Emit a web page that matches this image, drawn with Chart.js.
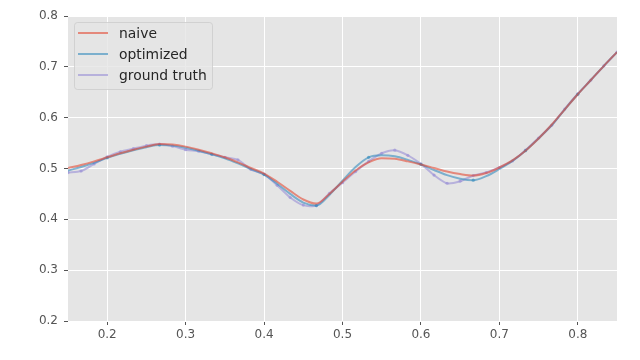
<!DOCTYPE html>
<html>
<head>
<meta charset="utf-8">
<script src="https://cdn.jsdelivr.net/npm/chart.js@4/dist/chart.umd.min.js"></script>
<style>
  html, body { margin: 0; padding: 0; background: #fff; }
  #wrap { width: 640px; height: 360px; position: relative; }
</style>
</head>
<body>
<div id="wrap"><canvas id="myChart" width="640" height="360"></canvas></div>
<script>
// sample positions (every 1/60 from 0.15 to 0.85)
const xs = [0.15, 0.1667, 0.1833, 0.2, 0.2167, 0.2333, 0.25, 0.2667, 0.2833, 0.3,
  0.3167, 0.3333, 0.35, 0.3667, 0.3833, 0.4, 0.4167, 0.4333, 0.45, 0.4667,
  0.4833, 0.5, 0.5167, 0.5333, 0.55, 0.5667, 0.5833, 0.6, 0.6167, 0.6333,
  0.65, 0.6667, 0.6833, 0.7, 0.7167, 0.7333, 0.75, 0.7667, 0.7833, 0.8,
  0.8167, 0.8333, 0.85];

const naive = [0.501, 0.507, 0.514, 0.522, 0.530, 0.537, 0.543, 0.548, 0.547, 0.543,
  0.537, 0.530, 0.522, 0.512, 0.501, 0.490, 0.474, 0.456, 0.439, 0.431,
  0.450, 0.474, 0.496, 0.512, 0.520, 0.519, 0.514, 0.508, 0.501, 0.494,
  0.489, 0.486, 0.491, 0.502, 0.516, 0.535, 0.559, 0.586, 0.616, 0.646,
  0.674, 0.702, 0.729];

const optimized = [0.496, 0.503, 0.511, 0.521, 0.529, 0.536, 0.542, 0.546, 0.545, 0.541,
  0.535, 0.528, 0.520, 0.510, 0.499, 0.488, 0.470, 0.450, 0.433, 0.427,
  0.448, 0.476, 0.503, 0.522, 0.526, 0.524, 0.517, 0.508, 0.497, 0.487,
  0.480, 0.477, 0.485, 0.499, 0.515, 0.535, 0.559, 0.585, 0.616, 0.646,
  0.674, 0.702, 0.729];

const groundTruth = [0.492, 0.495, 0.509, 0.523, 0.533, 0.539, 0.545, 0.548, 0.544, 0.537,
  0.534, 0.528, 0.522, 0.517, 0.498, 0.489, 0.467, 0.443, 0.428, 0.427,
  0.451, 0.472, 0.494, 0.514, 0.530, 0.536, 0.526, 0.509, 0.487, 0.471,
  0.475, 0.486, 0.492, 0.502, 0.515, 0.536, 0.560, 0.585, 0.617, 0.647,
  0.674, 0.702, 0.729];

const seriesNames = ['naive', 'optimized', 'ground truth'];
const xTicks = [0.2, 0.3, 0.4, 0.5, 0.6, 0.7, 0.8];
const yTicks = [0.2, 0.3, 0.4, 0.5, 0.6, 0.7, 0.8];

const RED = 'rgba(226,74,51,0.6)';
const BLUE = 'rgba(52,138,189,0.6)';
const PURPLE = 'rgba(152,142,213,0.6)';

function pts(arr) {
    return arr.map((y, i) => ({ x: xs[i], y: y }));
}

// optimized markers only every 4th sample (1/15 step)
let optRadius = xs.map((x, i) => ((i + 9) % 4 == 0 ? 1.6 : 0));

const plotBg = {
    id: 'plotBg',
    beforeDraw(chart) {
        const { ctx, chartArea: a } = chart;
        ctx.save();
        ctx.fillStyle = '#E5E5E5';
        ctx.fillRect(a.left, a.top, a.right - a.left, a.bottom - a.top);
        ctx.restore();
    }
};

// legend inside the axes, upper left like matplotlib
const innerLegend = {
    id: 'innerLegend',
    afterDraw(chart) {
        const { ctx, chartArea: a } = chart;
        const x0 = a.left + 6, y0 = a.top + 6, w = 138, h = 67;
        ctx.save();
        ctx.beginPath();
        ctx.roundRect(x0 + 0.5, y0 + 0.5, w, h, 3);
        ctx.fillStyle = 'rgba(229,229,229,0.8)';
        ctx.fill();
        ctx.strokeStyle = 'rgba(204,204,204,0.8)';
        ctx.lineWidth = 1;
        ctx.stroke();
        ctx.font = '13.9px "DejaVu Sans"';
        ctx.textBaseline = 'middle';
        chart.data.datasets.forEach((ds, i) => {
            const cy = y0 + 11 + i * 21;
            ctx.strokeStyle = ds.borderColor;
            ctx.lineWidth = 2;
            ctx.beginPath();
            ctx.moveTo(x0 + 4, cy);
            ctx.lineTo(x0 + 34, cy);
            ctx.stroke();
            ctx.fillStyle = '#262626';
            ctx.fillText(ds.label, x0 + 45, cy + 1);
        });
        ctx.restore();
    }
};

const ctx = document.getElementById('myChart');
new Chart(ctx, {
    type: 'line',
    data: {
        datasets: [
            {
                label: seriesNames[0], data: pts(naive), borderColor: RED, backgroundColor: RED,
                borderWidth: 2, pointRadius: 0, cubicInterpolationMode: 'monotone'
            },
            {
                label: seriesNames[1], data: pts(optimized), borderColor: BLUE, backgroundColor: BLUE,
                borderWidth: 2, pointRadius: optRadius, pointBorderWidth: 0, cubicInterpolationMode: 'monotone'
            },
            {
                label: seriesNames[2], data: pts(groundTruth), borderColor: PURPLE, backgroundColor: PURPLE,
                borderWidth: 2, pointRadius: 1.6, pointBorderWidth: 0, tension: 0.25
            },
        ]
    },
    options: {
        responsive: false,
        animation: { duration: 0 },
        layout: { padding: { top: 16, right: 23, left: 0, bottom: 0 } },
        plugins: {
            legend: { display: false },
            tooltip: { enabled: false }
        },
        scales: {
            x: {
                type: 'linear',
                min: 0.15,
                max: 0.85,
                afterBuildTicks: (s) => { s.ticks = xTicks.map(v => ({ value: v })); },
                afterFit: (s) => { s.height = 39; },
                border: { display: false },
                grid: { color: '#ffffff', lineWidth: 1, tickColor: '#555555', tickLength: 4 },
                ticks: {
                    color: '#555555', padding: 3,
                    font: { family: 'DejaVu Sans', size: 12 },
                    callback: (v) => v.toFixed(1)
                }
            },
            y: {
                min: 0.2,
                max: 0.8,
                afterBuildTicks: (s) => { s.ticks = yTicks.map(v => ({ value: v })); },
                afterFit: (s) => { s.width = 68; },
                border: { display: false },
                grid: { color: '#ffffff', lineWidth: 1, tickColor: '#555555', tickLength: 4 },
                ticks: {
                    color: '#555555', padding: 6,
                    font: { family: 'DejaVu Sans', size: 12 },
                    callback: (v) => v.toFixed(1)
                }
            }
        }
    },
    plugins: [plotBg, innerLegend]
});
</script>
</body>
</html>
